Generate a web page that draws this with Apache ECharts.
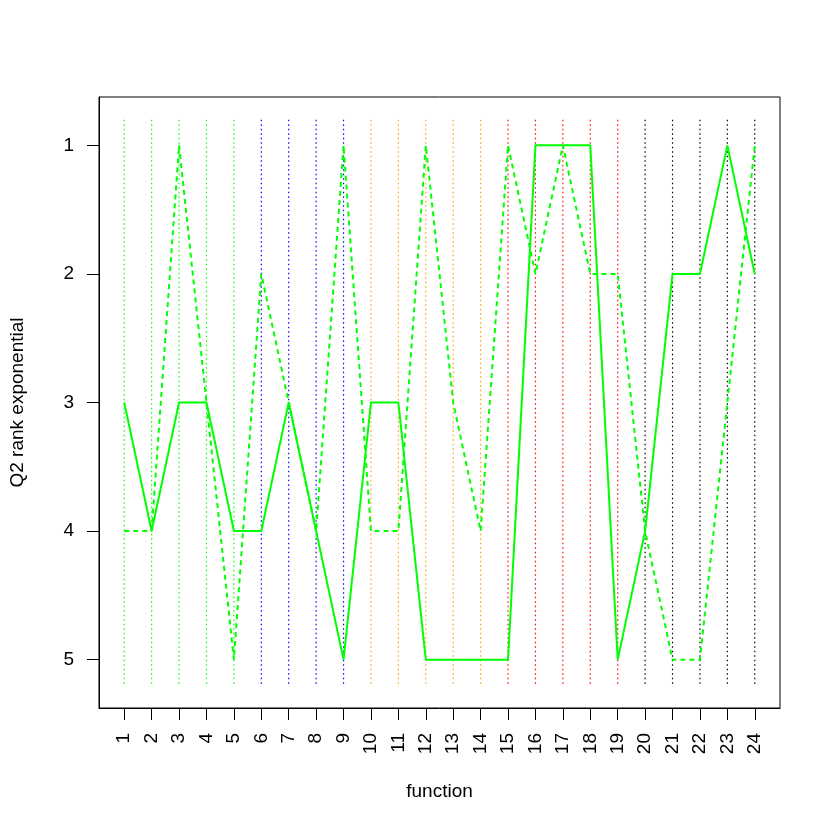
<!DOCTYPE html>
<html>
<head>
<meta charset="utf-8">
<script src="https://cdn.jsdelivr.net/npm/echarts@6/dist/echarts.min.js"></script>
<style>html,body{margin:0;padding:0;background:#fff;}#c{width:830px;height:830px;}</style>
</head>
<body>
<div id="c"></div>
<script>
// Data
var functions = [1,2,3,4,5,6,7,8,9,10,11,12,13,14,15,16,17,18,19,20,21,22,23,24];
var solidRank = [3,4,3,3,4,4,3,4,5,3,3,5,5,5,5,1,1,1,5,4,2,2,1,2];
var dashedRank = [4,4,1,3,5,2,3,4,1,4,4,1,3,4,1,2,1,2,2,4,5,5,3,1];
var groupColors = ['#00FF00','#00FF00','#00FF00','#00FF00','#00FF00',
  '#0000FF','#0000FF','#0000FF','#0000FF',
  '#FFA500','#FFA500','#FFA500','#FFA500','#FFA500',
  '#FF0000','#FF0000','#FF0000','#FF0000','#FF0000',
  '#000000','#000000','#000000','#000000','#000000'];
var yTicks = [1,2,3,4,5];
var vLineRange = [0.8, 5.2];

var FONT = 'Liberation Sans, Arial, Helvetica, sans-serif';
var FS = 19;

var series = [];
functions.forEach(function(f, i){
  series.push({
    type: 'line', silent: true, symbol: 'none', animation: false,
    data: [[f, vLineRange[0]], [f, vLineRange[1]]],
    lineStyle: {color: groupColors[i], width: 1.2, type: [1.5,3]}
  });
});
series.push({
  type: 'line', symbol: 'none', animation: false,
  data: functions.map(function(f,i){return [f, solidRank[i]];}),
  lineStyle: {color: '#00FF00', width: 2, type: 'solid'}
});
series.push({
  type: 'line', symbol: 'none', animation: false,
  data: functions.map(function(f,i){return [f, dashedRank[i]];}),
  lineStyle: {color: '#00FF00', width: 2, type: [5,4]}
});

var chart = echarts.init(document.getElementById('c'), null, {renderer: 'canvas'});
chart.setOption({
  animation: false,
  backgroundColor: '#ffffff',
  grid: {left: 97, right: 50, top: 97, bottom: 122, show: true, borderColor: '#000', borderWidth: 1, backgroundColor: 'transparent'},
  xAxis: {
    type: 'value', min: 0.08, max: 24.92,
    name: 'function', nameLocation: 'middle', nameGap: 74,
    nameTextStyle: {fontFamily: FONT, fontSize: FS, color: '#000'},
    axisLine: {show: true, lineStyle: {color: '#000', width: 1}},
    axisTick: {show: true, customValues: functions, length: 12, inside: false, lineStyle: {color: '#000', width: 1}},
    axisLabel: {show: true, customValues: functions, rotate: 90, margin: 25, fontFamily: FONT, fontSize: FS, color: '#000',
      formatter: function(v){return String(v);}},
    splitLine: {show: false}
  },
  yAxis: {
    type: 'value', inverse: true, min: 0.624, max: 5.376,
    name: 'Q2 rank exponential', nameLocation: 'middle', nameGap: 72, nameRotate: 90,
    nameTextStyle: {fontFamily: FONT, fontSize: FS, color: '#000'},
    axisLine: {show: true, lineStyle: {color: '#000', width: 1}},
    axisTick: {show: true, customValues: yTicks, length: 12, inside: false, lineStyle: {color: '#000', width: 1}},
    axisLabel: {show: true, customValues: yTicks, margin: 25, fontFamily: FONT, fontSize: FS, color: '#000',
      formatter: function(v){return String(v);}},
    splitLine: {show: false}
  },
  series: series
});
</script>
</body>
</html>
